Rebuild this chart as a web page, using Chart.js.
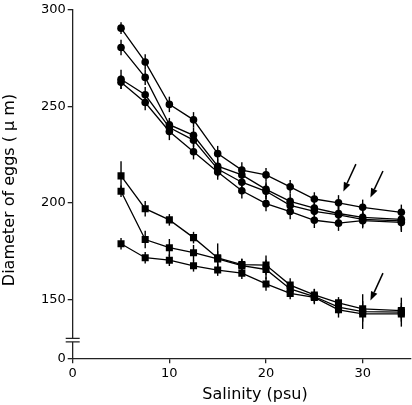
<!DOCTYPE html>
<html><head><meta charset="utf-8">
<script src="https://cdn.jsdelivr.net/npm/chart.js@4/dist/chart.umd.min.js"></script>
<style>html,body{margin:0;padding:0;background:#fff}canvas{display:block}</style>
</head><body>
<canvas id="c" width="412" height="405"></canvas>
<script>
// ---- data ----
const salinity = [5, 7.5, 10, 12.5, 15, 17.5, 20, 22.5, 25, 27.5, 30, 34];

const circleA = [290.5, 273, 251, 243, 225.5, 217, 214.5, 208.3, 202, 200, 197.7, 195.1];
const circleB = [280.5, 265, 240.5, 235, 219, 214.5, 207, 200.8, 197.3, 194.5, 192.5, 191.5];
const circleC = [264, 256, 239, 232.5, 217.5, 210.7, 206, 198.7, 195.6, 193.8, 191.5, 190.7];
const circleD = [262.5, 252, 237, 226.5, 216, 206.3, 199.6, 195.5, 191, 189.5, 190.8, 189.9];
const circleAErr = [3, 4, 4, 4, 4, 4, 3.5, 3.5, 3.5, 4, 4, 4];
const circleBErr = [4, 4, 3.5, 4, 4, 4, 4, 4, 3.5, 4, 3.5, 4];
const circleCErr = [5, 4, 4, 3.5, 4, 4, 4, 4, 4, 4, 4, 5];
const circleDErr = [3.5, 4, 4.5, 4, 4, 4, 4, 4, 4, 4, 4, 5];

const squareA = [214, 197, 191.2, 182, 171.5, 168, 167.8, 157.4, 152.3, 148.2, 145.1, 144.2];
const squareB = [206, 181, 176.8, 174.2, 171, 167.5, 165.5, 155.4, 151.5, 146, 143.7, 143.4];
const squareC = [178.8, 171.6, 170.3, 167.4, 165.2, 163.6, 158, 153.1, 151, 144.6, 142.5, 142.5];
const squareAErr = [7.5, 4, 3, 3, 7.5, 3, 5, 3.5, 3, 3, 4, 4];
const squareBErr = [3, 4.5, 4.5, 4, 4, 3.5, 5, 3.5, 4, 3.5, 9, 7.5];
const squareCErr = [3, 3, 3, 3, 3, 3, 3.5, 3, 3, 4, 4, 4];

const xTicks = [0, 10, 20, 30];
const yTicks = [150, 200, 250, 300];
const yBrokenBaseLabel = '0';
const xTitle = 'Salinity (psu)';
const yTitle = 'Diameter of eggs ( \u03bc m)';
// arrows: [fromX, fromY, toX, toY] in data units
const arrows = [[29.3, 220.1, 28.0, 205.9], [32.1, 216.5, 30.8, 202.8], [32.1, 163.6, 30.8, 149.4]];

// ---- chart ----
const Y_MIN = 119.5, Y_MAX = 300, BREAK_AT = 128.9;
const FONT = 'DejaVu Sans';

function ds(vals, errs, style, r) {
  return {
    data: salinity.map((x, i) => ({x: x, y: vals[i]})),
    errors: errs,
    borderColor: '#000', backgroundColor: '#000', borderWidth: 1.3,
    pointStyle: style, pointRadius: r, pointHoverRadius: r,
    pointBackgroundColor: '#000', pointBorderColor: '#000', pointBorderWidth: 0,
    showLine: true, tension: 0, fill: false
  };
}

const errorBars = {
  id: 'errorBars',
  afterDatasetsDraw(chart) {
    const ctx = chart.ctx, ys = chart.scales.y, xs = chart.scales.x;
    ctx.save();
    ctx.strokeStyle = '#000'; ctx.lineWidth = 1.4;
    chart.data.datasets.forEach(d => {
      d.data.forEach((p, i) => {
        const e = d.errors[i];
        const px = xs.getPixelForValue(p.x);
        ctx.beginPath();
        ctx.moveTo(px, ys.getPixelForValue(p.y - e));
        ctx.lineTo(px, ys.getPixelForValue(p.y + e));
        ctx.stroke();
      });
    });
    ctx.restore();
  }
};

const decor = {
  id: 'decor',
  afterDraw(chart) {
    const ctx = chart.ctx, ys = chart.scales.y, xs = chart.scales.x;
    ctx.save();
    // axis break
    const bx = xs.left, by = ys.getPixelForValue(BREAK_AT);
    ctx.fillStyle = '#fff';
    ctx.fillRect(bx - 2, by - 1.7, 4, 3.4);
    ctx.strokeStyle = '#222'; ctx.lineWidth = 1.2;
    ctx.beginPath();
    ctx.moveTo(bx - 7, by - 1.7); ctx.lineTo(bx + 7, by - 1.7);
    ctx.moveTo(bx - 7, by + 1.7); ctx.lineTo(bx + 7, by + 1.7);
    ctx.stroke();
    // arrows
    ctx.strokeStyle = '#000'; ctx.fillStyle = '#000'; ctx.lineWidth = 1.5;
    arrows.forEach(a => {
      const x1 = xs.getPixelForValue(a[0]), y1 = ys.getPixelForValue(a[1]);
      const x2 = xs.getPixelForValue(a[2]), y2 = ys.getPixelForValue(a[3]);
      const ang = Math.atan2(y2 - y1, x2 - x1), L = 9, W = 3.5;
      const bxp = x2 - L * Math.cos(ang), byp = y2 - L * Math.sin(ang);
      ctx.beginPath(); ctx.moveTo(x1, y1); ctx.lineTo(bxp, byp); ctx.stroke();
      ctx.beginPath();
      ctx.moveTo(x2, y2);
      ctx.lineTo(bxp + W * Math.sin(ang), byp - W * Math.cos(ang));
      ctx.lineTo(bxp - W * Math.sin(ang), byp + W * Math.cos(ang));
      ctx.closePath(); ctx.fill();
    });
    // titles
    ctx.fillStyle = '#000';
    ctx.font = '16px "' + FONT + '"';
    ctx.textAlign = 'center'; ctx.textBaseline = 'middle';
    ctx.fillText(xTitle, 255, 395);
    ctx.translate(10, 190); ctx.rotate(-Math.PI / 2);
    ctx.fillText(yTitle, 0, 0);
    ctx.restore();
  }
};

new Chart(document.getElementById('c'), {
  type: 'scatter',
  data: {
    datasets: [
      ds(circleA, circleAErr, 'circle', 3.8), ds(circleB, circleBErr, 'circle', 3.8),
      ds(circleC, circleCErr, 'circle', 3.8), ds(circleD, circleDErr, 'circle', 3.8),
      ds(squareA, squareAErr, 'rect', 5), ds(squareB, squareBErr, 'rect', 5),
      ds(squareC, squareCErr, 'rect', 5)
    ]
  },
  options: {
    responsive: false, animation: false, devicePixelRatio: 1,
    layout: {padding: {left: 0, top: 7, right: 1, bottom: 0}, autoPadding: false},
    plugins: {legend: {display: false}, tooltip: {enabled: false}, title: {display: false}},
    scales: {
      x: {
        type: 'linear', min: 0, max: 35,
        afterBuildTicks: s => { s.ticks = xTicks.map(v => ({value: v})); },
        afterFit: s => { s.height = 46.7; },
        border: {display: true, color: '#222', width: 1.3},
        grid: {drawOnChartArea: false, drawTicks: true, tickLength: 5, color: '#222', lineWidth: 1.3},
        ticks: {color: '#000', font: {family: FONT, size: 13}, padding: 3, maxRotation: 0},
        title: {display: false}
      },
      y: {
        type: 'linear', min: Y_MIN, max: Y_MAX,
        afterBuildTicks: s => { s.ticks = [Y_MIN].concat(yTicks).map(v => ({value: v})); },
        afterFit: s => { s.width = 72.7; },
        border: {display: true, color: '#222', width: 1.3},
        grid: {drawOnChartArea: false, drawTicks: true, tickLength: 5, color: '#222', lineWidth: 1.3},
        ticks: {color: '#000', font: {family: FONT, size: 13}, padding: 2,
          callback: v => (v === Y_MIN ? yBrokenBaseLabel : String(v))},
        title: {display: false}
      }
    }
  },
  plugins: [errorBars, decor]
});
</script>
</body></html>
